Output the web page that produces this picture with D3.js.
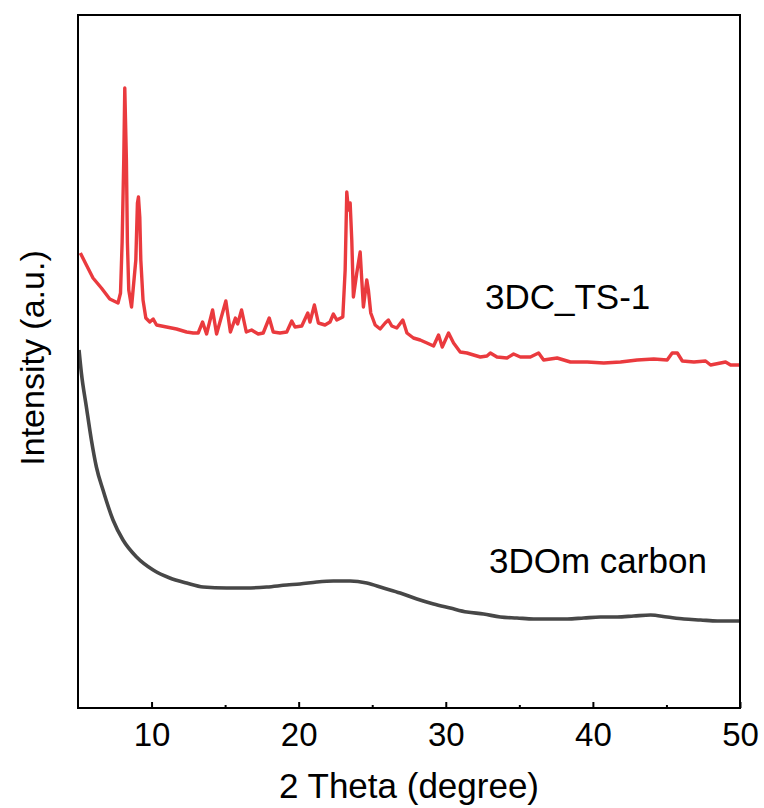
<!DOCTYPE html>
<html>
<head>
<meta charset="utf-8">
<script src="https://cdn.jsdelivr.net/npm/d3@7/dist/d3.min.js"></script>
<style>
  html, body { margin: 0; padding: 0; background: #fff; }
  svg { display: block; font-family: "Liberation Sans", Arial, sans-serif; }
</style>
</head>
<body>
<svg id="chart" width="764" height="808"></svg>
<script>
// ---- data ----
const ts1Theta = [5.16,5.57,6.02,6.59,7.16,7.72,7.89,8.00,8.11,8.18,8.29,8.36,8.45,8.64,8.93,9.04,9.11,9.20,9.27,9.42,9.61,9.88,10.11,10.34,11.02,11.70,12.38,12.83,13.17,13.47,13.74,14.15,14.42,15.05,15.36,15.70,15.85,16.12,16.44,16.80,17.25,17.59,18.00,18.27,18.73,19.19,19.53,19.75,20.21,20.62,20.77,21.07,21.34,21.79,22.13,22.36,22.59,23.00,23.16,23.27,23.38,23.50,23.61,23.72,23.95,24.18,24.29,24.40,24.63,24.74,24.90,25.20,25.54,25.88,26.10,26.33,26.67,27.08,27.36,27.80,28.26,28.72,29.17,29.51,29.76,30.19,30.53,30.98,31.44,31.89,32.35,32.80,33.03,33.48,34.16,34.61,35.07,35.75,36.31,36.65,37.57,38.47,39.61,40.74,41.88,43.01,44.14,45.05,45.39,45.74,46.08,46.87,47.66,48.00,49.02,49.36,50.00];
const ts1Intensity = [455,443,430,420,409,405,415,466,548,620,548,465,418,401,448,505,511,491,448,408,390,386,389,383,381,379,376,375,375,386,374,398,374,407,376,390,384,398,376,378,374,375,390,376,375,376,387,381,382,395,386,403,385,383,386,394,388,391,438,516,498,505,468,411,435,456,428,401,428,418,395,383,379,385,388,382,380,388,375,370,368,365,362,373,361,375,365,356,355,353,351,352,355,351,350,354,351,351,355,348,350,346,346,345,346,348,349,348,355,355,347,346,347,343,346,343,343];

const carbonTheta = [5.07,5.23,5.57,5.91,6.25,6.70,7.38,8.06,8.98,10.11,11.24,12.38,13.51,15.10,16.46,17.83,19.19,20.09,21.23,22.36,23.50,24.63,25.76,26.90,28.04,29.17,30.30,31.44,32.57,33.71,34.84,35.97,37.11,38.25,39.38,40.51,41.65,42.78,43.92,45.05,46.19,47.32,48.46,49.82,50.00];
const carbonIntensity = [358,335,301,268,241,218,188,168,151,138,130,125,121,120,120,121,123,124,126,127,127,125,120,115,109,104,100,96,94,91,90,89,89,89,90,91,91,92,93,91,89,88,87,87,87];

const xTicks = [10,20,30,40,50];
const xMinorTicks = [15,25,35,45];
const seriesLabels = ["3DC_TS-1", "3DOm carbon"];
const xTitle = "2 Theta (degree)";
const yTitle = "Intensity (a.u.)";

// ---- layout ----
const mLeft = 78, mRight = 740, mTop = 15, mBottom = 708;
const svg = d3.select("#chart");

const x = d3.scaleLinear().domain([5, 50]).range([mLeft, mRight]);
const y = d3.scaleLinear().domain([0, 693]).range([mBottom, mTop]);

const ts1 = ts1Theta.map((t, i) => ({t, v: ts1Intensity[i]}));
const carbon = carbonTheta.map((t, i) => ({t, v: carbonIntensity[i]}));

// curves
svg.append("path")
  .datum(carbon)
  .attr("fill", "none")
  .attr("stroke", "#474747")
  .attr("stroke-width", 3.6)
  .attr("stroke-linejoin", "round")
  .attr("d", d3.line().x(d => x(d.t)).y(d => y(d.v)).curve(d3.curveMonotoneX));

svg.append("path")
  .datum(ts1)
  .attr("fill", "none")
  .attr("stroke", "#ea3a3e")
  .attr("stroke-width", 3.4)
  .attr("stroke-linejoin", "round")
  .attr("d", d3.line().x(d => x(d.t)).y(d => y(d.v)));

// frame
svg.append("rect")
  .attr("x", mLeft).attr("y", mTop)
  .attr("width", mRight - mLeft).attr("height", mBottom - mTop)
  .attr("fill", "none").attr("stroke", "#000").attr("stroke-width", 2);

// bottom axis (inward ticks)
const xAxis = svg.append("g")
  .attr("transform", `translate(0,${mBottom})`)
  .call(d3.axisBottom(x).tickValues(xTicks).tickSize(-6).tickPadding(15).tickFormat(d3.format("d")));
xAxis.select(".domain").remove();
xAxis.selectAll(".tick line").attr("stroke", "#000").attr("stroke-width", 2);
xAxis.selectAll(".tick text")
  .attr("fill", "#000")
  .style("font-family", '"Liberation Sans", Arial, sans-serif')
  .style("font-size", "33px");

const xMinor = svg.append("g")
  .attr("transform", `translate(0,${mBottom})`)
  .call(d3.axisBottom(x).tickValues(xMinorTicks).tickSize(-3).tickFormat(""));
xMinor.select(".domain").remove();
xMinor.selectAll(".tick line").attr("stroke", "#000").attr("stroke-width", 2);

// titles
svg.append("text")
  .attr("x", (mLeft + mRight) / 2).attr("y", 798)
  .attr("text-anchor", "middle")
  .style("font-size", "35px")
  .attr("fill", "#000")
  .text(xTitle);

svg.append("text")
  .attr("transform", `translate(44,358) rotate(-90)`)
  .attr("text-anchor", "middle")
  .style("font-size", "34px")
  .attr("fill", "#000")
  .text(yTitle);

// series labels
svg.append("text")
  .attr("x", 485).attr("y", 309)
  .style("font-size", "35px")
  .attr("fill", "#000")
  .text(seriesLabels[0]);

svg.append("text")
  .attr("x", 489).attr("y", 573)
  .style("font-size", "35px")
  .attr("fill", "#000")
  .text(seriesLabels[1]);
</script>
</body>
</html>
